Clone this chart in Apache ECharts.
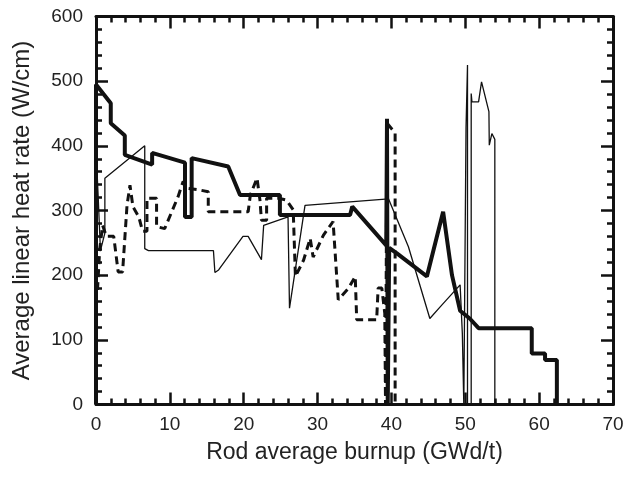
<!DOCTYPE html>
<html>
<head>
<meta charset="utf-8">
<script src="https://cdn.jsdelivr.net/npm/echarts@6/dist/echarts.min.js"></script>
<style>html,body{margin:0;padding:0;background:#fff}#c{width:627px;height:479px}</style>
</head>
<body>
<div id="c"></div>
<script>
// Thick solid line
var thickBurnup = [0, 0, 2.0, 2.0, 3.9, 3.9, 7.6, 7.6, 12.05, 12.05, 12.95, 12.95, 17.9, 19.5, 24.9, 24.9, 34.4, 34.7, 39.3, 39.4, 39.5, 39.6, 39.7, 40.7, 44.8, 47.0, 48.2, 49.3, 50.6, 51.8, 59.0, 59.0, 60.8, 60.8, 62.4, 62.4];
var thickLHR    = [0, 495, 466, 435, 416, 386, 371, 389, 374, 290, 290, 381, 368, 324, 324, 293, 293, 306, 246, 442, 0, 0, 242, 234, 198, 298, 200, 145, 133, 118, 118, 79, 79, 69, 69, 0];
// Thin solid line
var thinBurnup = [0, 0, 0.3, 0.6, 1.2, 1.2, 6.6, 6.6, 7.1, 15.9, 16.1, 16.6, 19.9, 20.6, 22.4, 22.7, 26.0, 26.2, 28.3, 39.6, 42.3, 45.2, 46.6, 49.3, 49.6, 49.8, 50.1, 50.3, 50.3, 50.8, 50.8, 50.9, 51.8, 52.2, 52.4, 53.2, 53.25, 53.6, 54.0, 54.0];
var thinLHR    = [0, 397, 320, 238, 265, 350, 400, 241, 238, 238, 204, 208, 260, 260, 224, 277, 290, 149, 308, 318, 244, 133, 151, 185, 110, 0, 428, 525, 0, 0, 481, 468, 468, 499, 499, 453, 401, 419, 410, 0];
// Dashed line
var dashBurnup = [0.2, 0.5, 0.9, 1.4, 2.4, 3.0, 3.6, 4.2, 4.6, 4.8, 5.0, 5.8, 6.3, 6.9, 6.9, 8.2, 8.2, 9.3, 11.1, 11.8, 12.5, 13.9, 15.2, 15.2, 20.6, 20.9, 21.8, 22.2, 22.4, 23.1, 23.1, 24.7, 25.8, 26.7, 27.0, 28.1, 29.0, 29.4, 30.8, 32.1, 32.8, 34.2, 35.1, 35.3, 38.0, 38.2, 38.7, 39.1, 39.2, 39.4, 40.5, 40.5];
var dashLHR    = [177, 240, 277, 260, 260, 205, 205, 308, 339, 339, 306, 290, 268, 268, 319, 319, 275, 272, 321, 345, 334, 332, 329, 298, 298, 324, 350, 316, 285, 285, 319, 319, 316, 301, 198, 223, 257, 228, 262, 283, 162, 180, 198, 131, 131, 180, 180, 141, 0, 435, 420, 0];

var xTicks = [0, 10, 20, 30, 40, 50, 60, 70];
var yTicks = [0, 100, 200, 300, 400, 500, 600];

function zip(a, b) { return a.map(function (v, i) { return [v, b[i]]; }); }

var FONT = 'Liberation Sans, Arial, sans-serif';
var INK = '#111';
function xAx(pos, show) {
  return {
    type: 'value', position: pos, min: xTicks[0], max: xTicks[xTicks.length - 1], interval: 10,
    axisLine: { show: true, onZero: false, lineStyle: { color: INK, width: 3 } },
    axisTick: { show: true, inside: true, length: 12, lineStyle: { color: INK, width: 2.5 } },
    minorTick: { show: true, splitNumber: 5, length: 6, lineStyle: { color: INK, width: 2.5 } },
    splitLine: { show: false },
    axisLabel: { show: show, fontFamily: FONT, fontSize: 19, color: '#222', margin: 11 },
    name: show ? 'Rod average burnup (GWd/t)' : '', nameLocation: 'middle', nameGap: 37, nameMoveOverlap: false,
    nameTextStyle: { fontFamily: FONT, fontSize: 23, color: '#222' }
  };
}
function yAx(pos, show) {
  return {
    type: 'value', position: pos, min: yTicks[0], max: yTicks[yTicks.length - 1], interval: 100,
    axisLine: { show: true, onZero: false, lineStyle: { color: INK, width: 3 } },
    axisTick: { show: true, inside: true, length: 12, lineStyle: { color: INK, width: 2.5 } },
    minorTick: { show: true, splitNumber: 5, length: 6, lineStyle: { color: INK, width: 2.5 } },
    splitLine: { show: false },
    axisLabel: { show: show, fontFamily: FONT, fontSize: 19, color: '#222', margin: 13 },
    name: show ? 'Average linear heat rate (W/cm)' : '', nameLocation: 'middle', nameGap: 62, nameRotate: 90, nameMoveOverlap: false,
    nameTextStyle: { fontFamily: FONT, fontSize: 24, color: '#222' }
  };
}

var chart = echarts.init(document.getElementById('c'), null, { renderer: 'canvas' });
chart.setOption({
  animation: false,
  backgroundColor: '#fff',
  grid: { left: 96, right: 14, top: 16.5, bottom: 74.5, containLabel: false },
  xAxis: [xAx('bottom', true), xAx('top', false)],
  yAxis: [yAx('left', true), yAx('right', false)],
  series: [
    { type: 'line', data: zip(thinBurnup, thinLHR), showSymbol: false, symbol: 'none',
      lineStyle: { color: INK, width: 1.3 }, z: 3 },
    { type: 'line', data: zip(dashBurnup, dashLHR), showSymbol: false, symbol: 'none',
      lineStyle: { color: INK, width: 3, type: [8, 5] }, z: 4 },
    { type: 'line', data: zip(thickBurnup, thickLHR), showSymbol: false, symbol: 'none',
      lineStyle: { color: INK, width: 4 }, z: 5 }
  ]
});
</script>
</body>
</html>
